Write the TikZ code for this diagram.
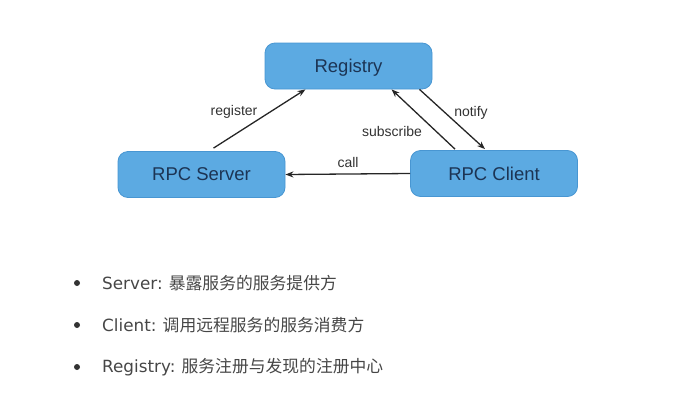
\documentclass[tikz,border=0pt]{standalone}
\usepackage{fontspec}
\setmainfont{Liberation Sans}
\newfontfamily\cjk{Noto Sans CJK SC}
\newfontfamily\latb{DejaVu Sans}
\usetikzlibrary{arrows.meta}
\definecolor{boxfill}{RGB}{92,170,226}
\definecolor{boxline}{RGB}{72,150,210}
\definecolor{boxtext}{RGB}{28,52,84}
\definecolor{lbl}{RGB}{50,50,50}
\definecolor{bullettext}{RGB}{70,70,70}
\newcommand{\itm}[2]{{\latb #1} {\cjk #2}}
\tikzset{
  box/.style={draw=boxline, fill=boxfill, line width=0.8pt, rounded corners=10pt,
    minimum width=167pt, minimum height=46pt, inner sep=0pt, text depth=0pt,
    text=boxtext, font=\fontsize{18.5pt}{20pt}\selectfont},
  conn/.style={-{Stealth[length=8pt,width=6pt]}, line width=1.3pt, draw=black!85},
  lab/.style={text=lbl, font=\fontsize{14pt}{16pt}\selectfont, inner sep=0pt},
  item/.style={anchor=west, text=bullettext, inner sep=0pt,
    font=\fontsize{16.8pt}{19pt}\selectfont},
  dot/.style={circle, fill=black!80, minimum size=6pt, inner sep=0pt}
}
\begin{document}
\begin{tikzpicture}[x=1pt,y=-1pt]
\useasboundingbox (0,0) rectangle (700,407);
\node[box] (reg) at (348.5,66) {Registry};
\node[box] (srv) at (201.5,174.5) {RPC Server};
\node[box] (cli) at (494,173.5) {RPC Client};

\draw[conn] ([xshift=12pt,yshift=3pt]srv.north) -- ([xshift=-43pt]reg.south);
\draw[conn] ([xshift=-39pt,yshift=1pt]cli.north) -- ([xshift=43pt]reg.south);
\draw[conn] ([xshift=71pt]reg.south) -- ([xshift=-9pt,yshift=1pt]cli.north);
\draw[conn] (cli.west) -- (srv.east);

\node[lab] (lreg) at (234,112) {register};
\node[lab] (lsub) at (392,131) {subscribe};
\node[lab] (lnot) at (471,113) {notify};
\node[lab] (lcall) at (348,162) {call};

\node[dot] (d1) at (77,283) {};
\node[dot] (d2) at (77,325) {};
\node[dot] (d3) at (77,367) {};
\node[item] (t1) at (102,283) {\itm{Server:}{暴露服务的服务提供方}};
\node[item] (t2) at (102,325) {\itm{Client:}{调用远程服务的服务消费方}};
\node[item] (t3) at (102,367) {\itm{Registry:}{服务注册与发现的注册中心}};
\end{tikzpicture}
\end{document}
